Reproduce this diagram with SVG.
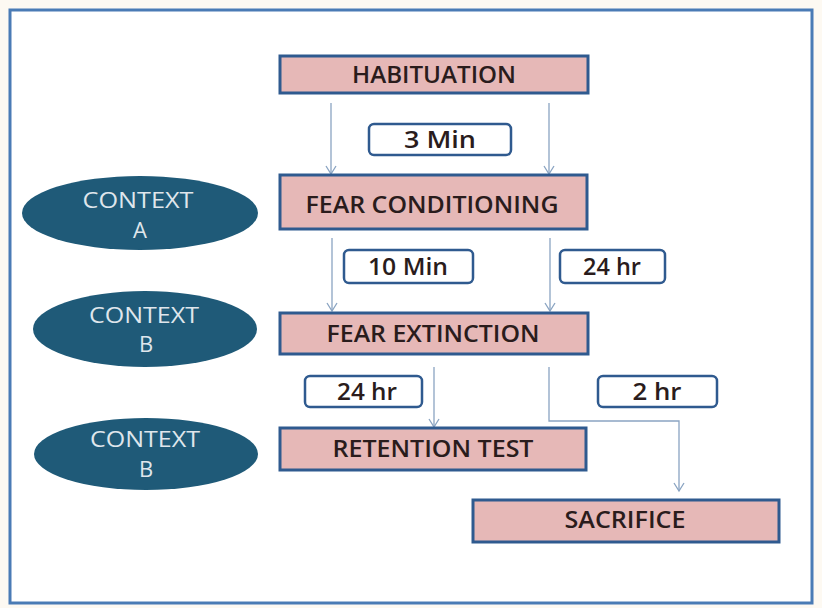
<svg xmlns="http://www.w3.org/2000/svg" width="822" height="608" viewBox="0 0 822 608">
<defs>
<style>
.box{fill:#e6b8b7;stroke:#2f5a8f;stroke-width:3}
.lbl{fill:#ffffff;stroke:#2f5a8f;stroke-width:2.5}
.ctx{fill:#1f5a78}
.t{font-family:"Open Sans","Liberation Sans",sans-serif;font-size:23px;font-weight:600;fill:#2a1c1c;text-anchor:middle}
.ct{font-family:"Open Sans","Liberation Sans",sans-serif;font-size:22px;fill:#dfe6ec;text-anchor:middle}
.c{fill:none;stroke:#8aa4c2;stroke-width:1.3}
</style>
<marker id="ah" markerWidth="12" markerHeight="12" refX="10" refY="6" orient="auto" markerUnits="userSpaceOnUse" viewBox="0 0 12 12">
<path d="M2,1 L10,6 L2,11" fill="none" stroke="#8aa4c2" stroke-width="1.3"/>
</marker>
</defs>
<rect x="0" y="0" width="822" height="608" fill="#fdf9f2"/>
<rect x="10" y="10" width="802" height="593" fill="#ffffff" stroke="#4a7bb5" stroke-width="3"/>

<g id="connectors">
<path class="c" d="M331,103 V174" marker-end="url(#ah)"/>
<path class="c" d="M549,103 V174" marker-end="url(#ah)"/>
<path class="c" d="M332,238 V311" marker-end="url(#ah)"/>
<path class="c" d="M550,238 V311" marker-end="url(#ah)"/>
<path class="c" d="M434,367 V427" marker-end="url(#ah)"/>
<path class="c" d="M549,367 V421 H679 V491" marker-end="url(#ah)"/>
</g>

<g id="habituation"><rect class="box" x="280" y="56" width="308" height="37"/><text class="t" x="434" y="83" textLength="164" lengthAdjust="spacingAndGlyphs">HABITUATION</text></g>
<g id="lbl-3min"><rect class="lbl" x="369" y="124" width="142" height="31" rx="5"/><text class="t" x="440" y="148" textLength="72" lengthAdjust="spacingAndGlyphs">3 Min</text></g>
<g id="fear-conditioning"><rect class="box" x="280" y="175" width="307" height="54"/><text class="t" x="432" y="213" textLength="253" lengthAdjust="spacingAndGlyphs">FEAR CONDITIONING</text></g>
<g id="context-a"><ellipse class="ctx" cx="140" cy="213" rx="118" ry="37"/><text class="ct" x="138" y="208" textLength="111" lengthAdjust="spacingAndGlyphs">CONTEXT</text><text class="ct" x="140" y="238">A</text></g>
<g id="lbl-10min"><rect class="lbl" x="344" y="250" width="129" height="33" rx="5"/><text class="t" x="408" y="275" textLength="80" lengthAdjust="spacingAndGlyphs">10 Min</text></g>
<g id="lbl-24hr-a"><rect class="lbl" x="560" y="250" width="105" height="33" rx="5"/><text class="t" x="612" y="275" textLength="58" lengthAdjust="spacingAndGlyphs">24 hr</text></g>
<g id="fear-extinction"><rect class="box" x="280" y="313" width="308" height="41"/><text class="t" x="433" y="342" textLength="213" lengthAdjust="spacingAndGlyphs">FEAR EXTINCTION</text></g>
<g id="context-b1"><ellipse class="ctx" cx="145" cy="329" rx="112" ry="38"/><text class="ct" x="144" y="323" textLength="110" lengthAdjust="spacingAndGlyphs">CONTEXT</text><text class="ct" x="146" y="352">B</text></g>
<g id="lbl-24hr-b"><rect class="lbl" x="305" y="376" width="117" height="31" rx="5"/><text class="t" x="367" y="400" textLength="60" lengthAdjust="spacingAndGlyphs">24 hr</text></g>
<g id="lbl-2hr"><rect class="lbl" x="598" y="376" width="119" height="31" rx="5"/><text class="t" x="657" y="400" textLength="49" lengthAdjust="spacingAndGlyphs">2 hr</text></g>
<g id="retention-test"><rect class="box" x="280" y="428" width="306" height="42"/><text class="t" x="433" y="457" textLength="201" lengthAdjust="spacingAndGlyphs">RETENTION TEST</text></g>
<g id="context-b2"><ellipse class="ctx" cx="146" cy="454" rx="112" ry="36"/><text class="ct" x="145" y="447" textLength="110" lengthAdjust="spacingAndGlyphs">CONTEXT</text><text class="ct" x="146" y="477">B</text></g>
<g id="sacrifice"><rect class="box" x="473" y="500" width="306" height="42"/><text class="t" x="625" y="528" textLength="121" lengthAdjust="spacingAndGlyphs">SACRIFICE</text></g>
</svg>
